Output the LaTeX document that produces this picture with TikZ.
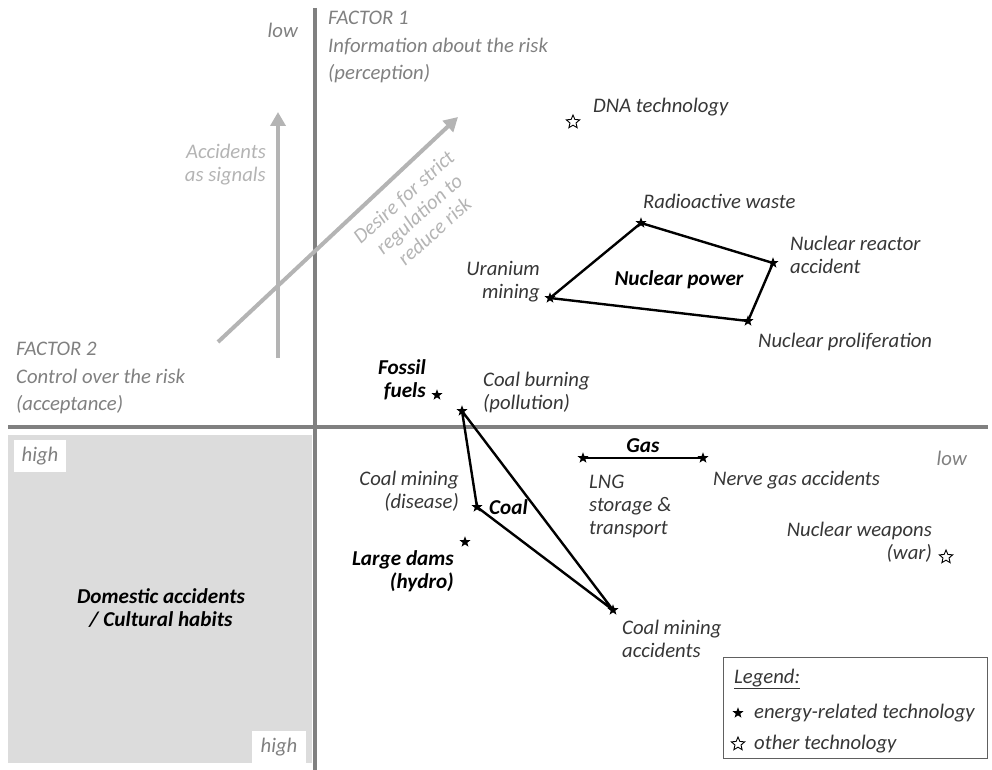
\documentclass[tikz,border=0pt]{standalone}
\usepackage{fontspec}
\setmainfont{Carlito}
\usetikzlibrary{shapes.geometric,arrows.meta}
\definecolor{axisgray}{HTML}{808080}
\definecolor{siggray}{HTML}{B4B4B4}
\definecolor{boxgray}{HTML}{DCDCDC}
\definecolor{txt}{HTML}{363636}
\definecolor{leggray}{HTML}{606060}
\begin{document}
\begin{tikzpicture}[x=1pt,y=-1pt,
 every node/.style={inner sep=0pt},
 lbl/.style={font=\fontsize{20.7}{23}\selectfont\itshape, text=txt},
 blbl/.style={font=\fontsize{21.2}{23}\selectfont\bfseries\itshape, text=black},
 fac/.style={font=\fontsize{20.7}{27.5}\selectfont\itshape, text=axisgray},
 siglbl/.style={font=\fontsize{20.7}{23}\selectfont\itshape, text=siggray},
 estar/.style={star, star points=5, star point ratio=2.4, fill=black, minimum size=11.5pt, inner sep=0pt},
 ostar/.style={star, star points=5, star point ratio=2.2, draw=black, line width=0.9pt, fill=white, minimum size=14pt, inner sep=0pt},
 edgeline/.style={line width=2.4pt, black, line join=round, line cap=round},
 axisline/.style={line width=4pt, axisgray},
 sig/.style={line width=4pt, siggray, -{Triangle[length=14pt,width=15pt]}}]
\useasboundingbox (0,0) rectangle (992,770);

% shaded quadrant
\node[fill=boxgray, minimum width=304pt, minimum height=328pt, anchor=north west] (quad) at (8,435) {};
\node[fill=white, fac, minimum width=52pt, minimum height=32pt] (hi1) at (40,456) {high};
\node[fill=white, fac, minimum width=54pt, minimum height=32pt] (hi2) at (279,747) {high};
\node[blbl, align=center] (dom) at (161,608) {Domestic accidents\\/ Cultural habits};

% axes
\coordinate (vtop) at (315,8);
\coordinate (vbot) at (315,770);
\coordinate (hl) at (8,427);
\coordinate (hr) at (988,427);
\draw[axisline] (vtop) -- (vbot);
\draw[axisline] (hl) -- (hr);

% signal arrows
\coordinate (a1s) at (278,358);
\coordinate (a1e) at (278,112);
\coordinate (a2s) at (218,342);
\coordinate (a2e) at (458,117);
\draw[sig] (a1s) -- (a1e);
\draw[sig] (a2s) -- (a2e);
\node[siglbl, align=right, anchor=east] (acc) at (266,165) {Accidents\\as signals};
\node[siglbl, align=center, rotate=42] (desire) at (419,214) {Desire for strict\\regulation to\\reduce risk};

% factor labels
\node[fac, anchor=east] (low1) at (298,30) {low};
\node[fac, align=left, anchor=west] (f1) at (328,47) {FACTOR 1\\Information about the risk\\(perception)};
\node[fac, align=left, anchor=west] (f2) at (16,378) {FACTOR 2\\Control over the risk\\(acceptance)};
\node[fac, anchor=east] (low2) at (967,458) {low};

% DNA
\node[ostar] (dna) at (573,122) {};
\node[lbl, anchor=west] (dnal) at (593,107) {DNA technology};

% nuclear power
\node[estar] (rw) at (641,223) {};
\node[estar] (nra) at (773,263) {};
\node[estar] (np) at (748,321) {};
\node[estar] (um) at (550,298) {};
\draw[edgeline] (um.center) -- (rw.center) -- (nra.center) -- (np.center) -- cycle;
\node[lbl, anchor=west] (rwl) at (643,201) {Radioactive waste};
\node[lbl, align=left, anchor=west] (nral) at (790,255) {Nuclear reactor\\accident};
\node[lbl, anchor=west] (npl) at (758,342) {Nuclear proliferation};
\node[lbl, align=right, anchor=east] (uml) at (540,282) {Uranium\\mining};
\node[blbl] (npw) at (679,280) {Nuclear power};

% fossil / coal
\node[estar] (ff) at (437,395) {};
\node[blbl, align=right, anchor=east] (ffl) at (426,380) {Fossil\\fuels};
\node[estar] (cb) at (462,411) {};
\node[lbl, align=left, anchor=west] (cbl) at (483,392) {Coal burning\\(pollution)};
\node[estar] (cmd) at (477,507) {};
\node[lbl, align=right, anchor=east] (cmdl) at (459,491) {Coal mining\\(disease)};
\node[estar] (cma) at (613,610) {};
\node[lbl, align=left, anchor=west] (cmal) at (622,639) {Coal mining\\accidents};
\draw[edgeline] (cb.center) -- (cmd.center) -- (cma.center) -- cycle;
\node[blbl, anchor=west] (coal) at (489,507) {Coal};
\node[estar] (ld) at (465,542) {};
\node[blbl, align=right, anchor=east] (ldl) at (454,571) {Large dams\\(hydro)};

% gas
\node[estar] (lng) at (583,458) {};
\node[estar] (ng) at (703,458) {};
\draw[edgeline] (lng.center) -- (ng.center);
\node[blbl] (gas) at (643,446) {Gas};
\node[lbl, align=left, anchor=west] (lngl) at (589,506) {LNG\\storage \&\\transport};
\node[lbl, anchor=west] (ngl) at (713,480) {Nerve gas accidents};

% nuclear weapons
\node[ostar] (nw) at (946,557) {};
\node[lbl, align=right, anchor=east] (nwl) at (932,542) {Nuclear weapons\\(war)};

% legend
\node[draw=leggray, line width=1.2pt, minimum width=264pt, minimum height=101pt, anchor=north west] (leg) at (723,657) {};
\node[lbl, anchor=west] (legt) at (734,679) {\underline{Legend:}};
\node[estar] (ls1) at (738,713) {};
\node[lbl, anchor=west] (lt1) at (754,713) {energy-related technology};
\node[ostar] (ls2) at (738,744) {};
\node[lbl, anchor=west] (lt2) at (754,744) {other technology};
\end{tikzpicture}
\end{document}
